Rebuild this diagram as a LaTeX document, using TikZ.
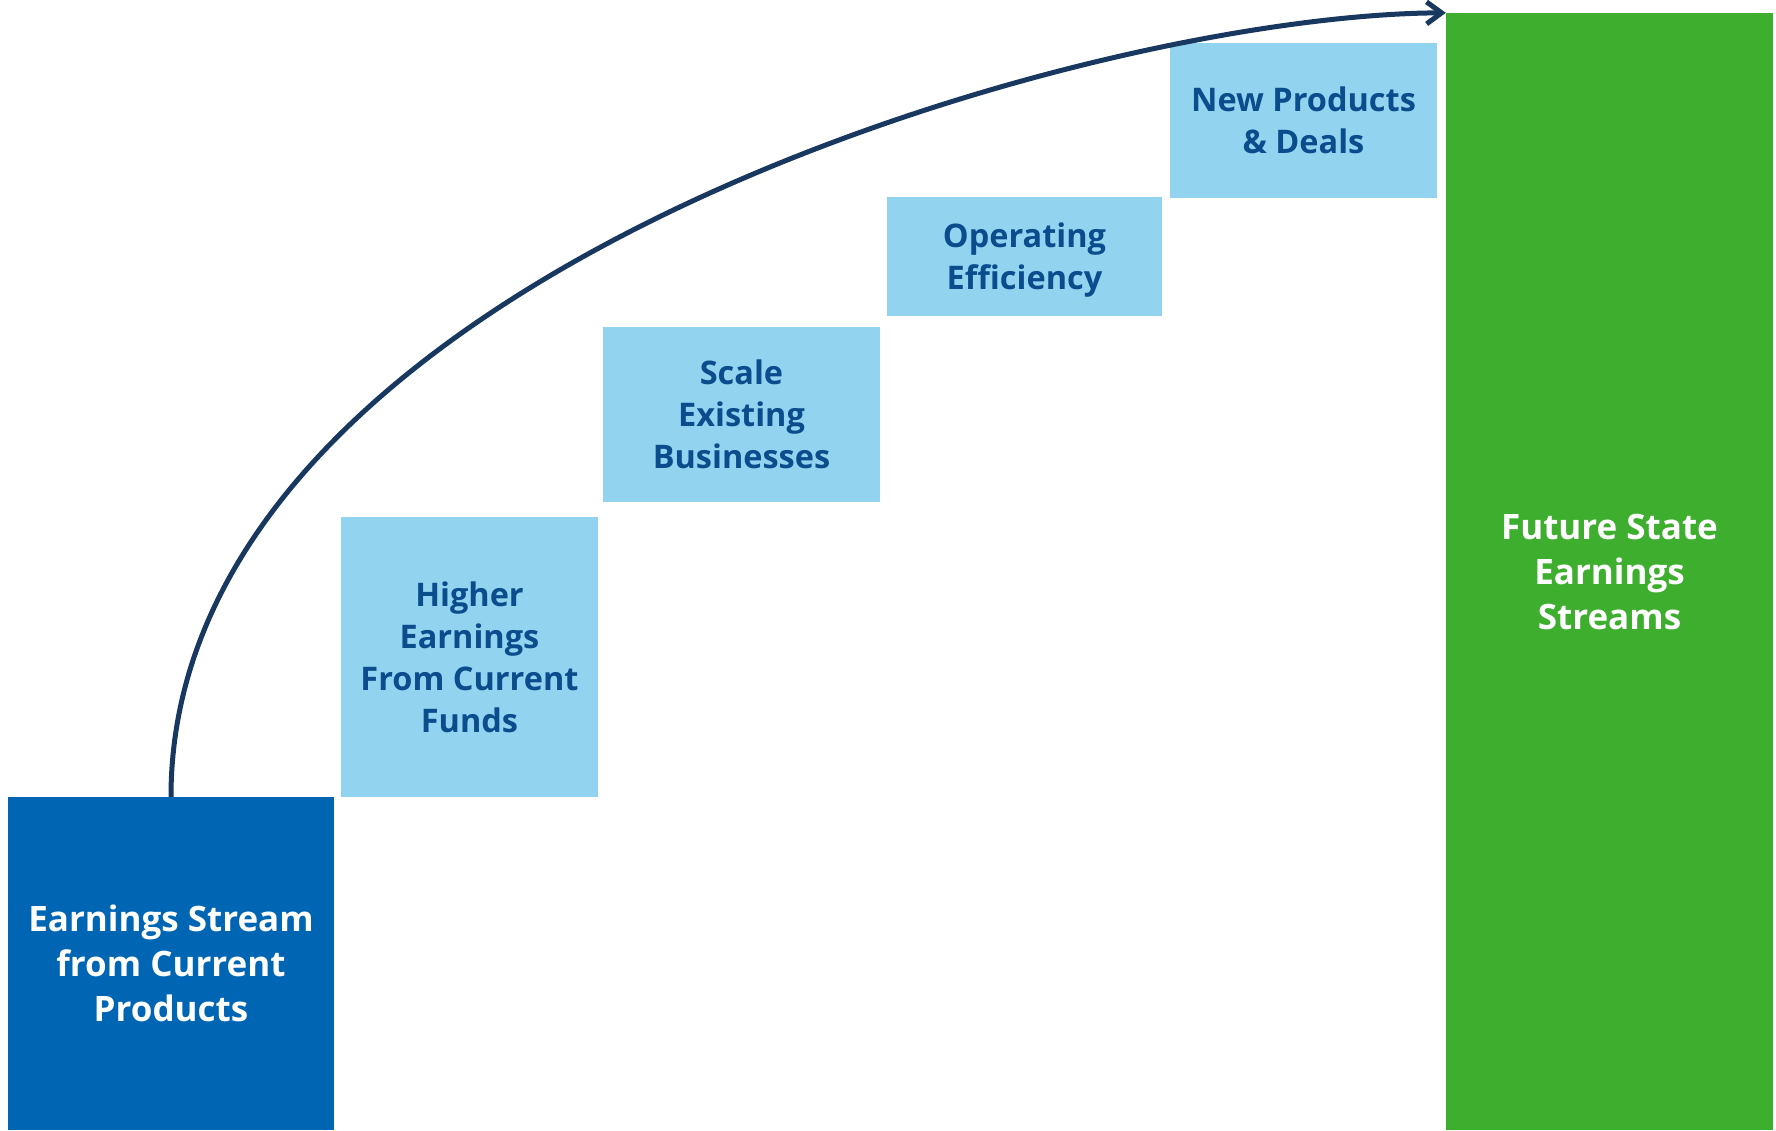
\documentclass[tikz,border=0pt]{standalone}
\usepackage{fontspec}
\setmainfont{Open Sans}
\usetikzlibrary{arrows.meta,shapes}
\definecolor{baseblue}{RGB}{0,102,179}
\definecolor{stepblue}{RGB}{146,212,240}
\definecolor{steptext}{RGB}{10,76,140}
\definecolor{futuregreen}{RGB}{61,174,46}
\definecolor{arrowblue}{RGB}{24,56,96}
\tikzstyle{stepbox}=[rectangle,fill=stepblue,text=steptext,inner sep=0pt,align=center,text depth=0pt,font=\bfseries\fontsize{32.5}{42}\selectfont]
\tikzstyle{bar}=[rectangle,text=white,inner sep=0pt,align=center,text depth=0pt,font=\bfseries\fontsize{35}{45}\selectfont]
\tikzstyle{growth}=[draw=arrowblue,line width=5pt,-{Straight Barb[length=15pt,width=22pt]}]

\begin{document}
\begin{tikzpicture}[x=1pt,y=-1pt]
    \useasboundingbox (0,0) rectangle (1776,1130);
    % Draw the two earnings bars
    \node[bar,fill=baseblue,minimum width=326pt,minimum height=333pt] (base) at (171,963.5) {Earnings Stream\\from Current\\Products};
    \node[bar,fill=futuregreen,minimum width=327pt,minimum height=1117pt] (future) at (1609.5,571.5) {Future State\\Earnings\\Streams};
    % Then the steps in between
    \foreach \pos/\w/\h/\name/\txt in {{(469.5,657)/257/280/funds/{Higher\\Earnings\\From Current\\Funds}},
        {(741.5,414.5)/277/175/scale/{Scale\\Existing\\Businesses}},
        {(1024.5,256.5)/275/119/efficiency/{Operating\\Efficiency}},
        {(1303.5,120.5)/267/155/deals/{New Products\\\& Deals}}}
        \node[stepbox,minimum width=\w pt,minimum height=\h pt] (\name) at \pos {\txt};
    % Growth curve from today to the future state
    \path[growth] (base.north) .. controls +(0,-517) and +(-367,2) .. (future.north west);
\end{tikzpicture}
\end{document}
